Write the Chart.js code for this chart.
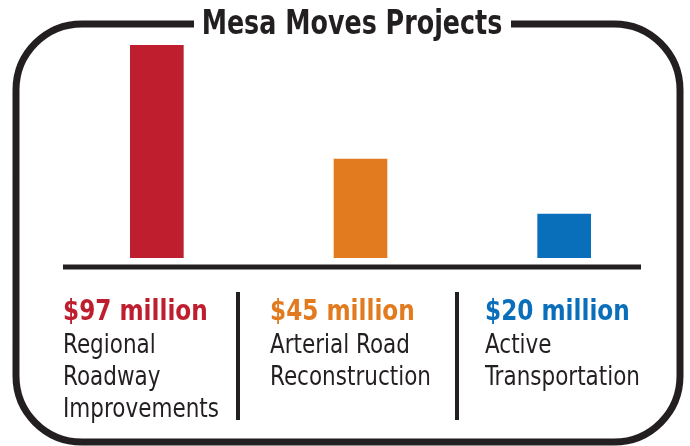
<!DOCTYPE html>
<html>
<head>
<meta charset="utf-8">
<title>Mesa Moves Projects</title>
<script src="https://cdn.jsdelivr.net/npm/chart.js@4.4.1/dist/chart.umd.min.js"></script>
<style>
    html, body { margin: 0; padding: 0; background: #fff; }
    #wrap { position: relative; width: 690px; height: 446px; }
</style>
</head>
<body>
<div id="wrap"><canvas id="projectsChart"></canvas></div>
<script>
// Chart data
const chartTitle = 'Mesa Moves Projects';
const categories = ['Regional Roadway Improvements', 'Arterial Road Reconstruction', 'Active Transportation'];
const categoryLines = [
    ['Regional', 'Roadway', 'Improvements'],
    ['Arterial Road', 'Reconstruction'],
    ['Active', 'Transportation']
];
const fundingMillions = [97, 45, 20];
const barColors = ['#BE1E2D', '#E27B1F', '#0A6FBA'];

const INK = '#231F20';
const NARROW = '"Liberation Sans Narrow", "DejaVu Sans Condensed", "Arial Narrow", sans-serif';

// Draw text squeezed horizontally (the original uses a very narrow typeface)
function fillNarrow(ctx, text, x, y, sx) {
    ctx.save();
    ctx.translate(x, y);
    ctx.scale(sx, 1);
    ctx.fillText(text, 0, 0);
    ctx.restore();
}

// Draws the rounded frame, title, baseline and the labels under the bars
const framePlugin = {
    id: 'frame',
    afterDraw(chart) {
        const ctx = chart.ctx;
        const yScale = chart.scales.y;
        ctx.save();

        // rounded border with a gap for the title
        const left = 16, right = 680, top = 24, bottom = 442, r = 66;
        const gapStart = 194, gapEnd = 511;
        ctx.strokeStyle = INK;
        ctx.lineWidth = 7;
        ctx.beginPath();
        ctx.moveTo(gapEnd, top);
        ctx.arcTo(right, top, right, bottom, r);
        ctx.arcTo(right, bottom, left, bottom, r);
        ctx.arcTo(left, bottom, left, top, r);
        ctx.arcTo(left, top, right, top, r);
        ctx.lineTo(gapStart, top);
        ctx.stroke();

        // title
        ctx.fillStyle = INK;
        ctx.font = 'bold 33px ' + NARROW;
        ctx.textAlign = 'center';
        ctx.textBaseline = 'alphabetic';
        fillNarrow(ctx, chartTitle, 352, 34, 0.855);

        // baseline under the bars
        const baseY = yScale.getPixelForValue(0) + 9;
        ctx.lineWidth = 5;
        ctx.beginPath();
        ctx.moveTo(63, baseY);
        ctx.lineTo(641, baseY);
        ctx.stroke();

        // column dividers
        ctx.lineWidth = 4;
        [238, 457].forEach(x => {
            ctx.beginPath();
            ctx.moveTo(x, 292);
            ctx.lineTo(x, 420);
            ctx.stroke();
        });

        // value + category labels
        const colX = [63, 270, 485];
        ctx.textAlign = 'left';
        fundingMillions.forEach((value, i) => {
            ctx.fillStyle = barColors[i];
            ctx.font = 'bold 28px ' + NARROW;
            fillNarrow(ctx, '$' + value + ' million', colX[i], 320, 0.92);

            ctx.fillStyle = INK;
            ctx.font = '26px ' + NARROW;
            categoryLines[i].forEach((line, j) => {
                fillNarrow(ctx, line, colX[i], 353 + j * 32, 0.92);
            });
        });

        ctx.restore();
    }
};

const ctx = document.getElementById('projectsChart').getContext('2d');
new Chart(ctx, {
    type: 'bar',
    data: {
        labels: categories,
        datasets: [{
            label: 'Funding ($ million)',
            data: fundingMillions,
            backgroundColor: barColors,
            borderWidth: 0,
            barThickness: 53
        }]
    },
    options: {
        responsive: true,
        maintainAspectRatio: false,
        animation: false,
        layout: {
            padding: { left: 55, right: 24, top: 45, bottom: 188 }
        },
        plugins: {
            legend: { display: false },
            tooltip: { enabled: false },
            title: { display: false }
        },
        scales: {
            x: { display: false },
            y: { display: false, min: 0, max: 97 }
        }
    },
    plugins: [framePlugin]
});
</script>
</body>
</html>
